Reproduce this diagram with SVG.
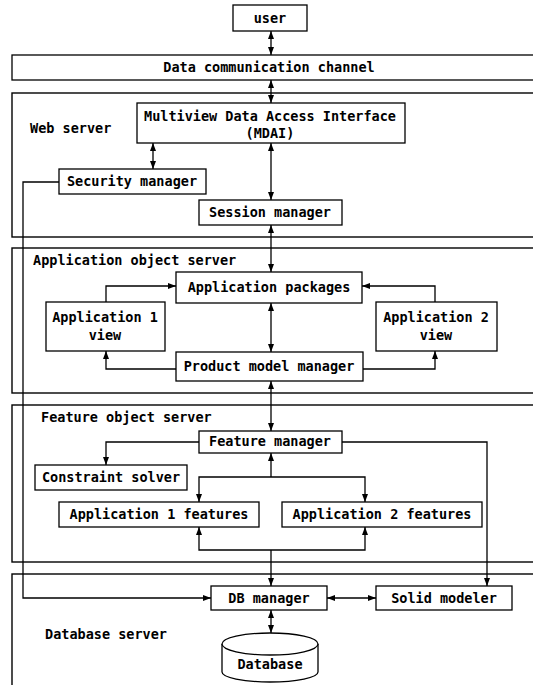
<svg xmlns="http://www.w3.org/2000/svg" width="533" height="685" viewBox="0 0 533 685">
  <style>
    .box { fill: #fff; stroke: #000; stroke-width: 1.3; }
    .tier { fill: none; stroke: #000; stroke-width: 1.4; }
    .ln { fill: none; stroke: #000; stroke-width: 1.3; }
    text { font-family: "DejaVu Sans Mono", "Liberation Mono", "Noto Sans CJK SC", monospace; font-weight: bold; font-size: 13.5px; fill: #000; }
    .c { text-anchor: middle; }
  </style>
  <defs>
    <marker id="ah" viewBox="0 0 8 6" refX="8" refY="3" markerWidth="8" markerHeight="6" markerUnits="userSpaceOnUse" orient="auto-start-reverse">
      <path d="M0,0 L8,3 L0,6 z" fill="#000"/>
    </marker>
  </defs>

  <!-- server tiers -->
  <g id="tiers">
    <rect class="tier" x="12" y="93" width="540" height="144"/>
    <rect class="tier" x="12" y="248" width="540" height="145"/>
    <rect class="tier" x="12" y="405" width="540" height="157"/>
    <rect class="tier" x="12" y="574" width="540" height="130"/>
    <text x="30" y="133">Web server</text>
    <text x="33" y="265">Application object server</text>
    <text x="41" y="422">Feature object server</text>
    <text x="45" y="639">Database server</text>
  </g>

  <!-- connectors -->
  <g id="connectors" class="ln">
    <path class="ln" d="M271,31 V55" marker-start="url(#ah)" marker-end="url(#ah)"/>
    <path class="ln" d="M271,80 V103" marker-start="url(#ah)" marker-end="url(#ah)"/>
    <path class="ln" d="M153,143 V169" marker-start="url(#ah)" marker-end="url(#ah)"/>
    <path class="ln" d="M271,143 V200" marker-start="url(#ah)" marker-end="url(#ah)"/>
    <path class="ln" d="M271,225 V272" marker-start="url(#ah)" marker-end="url(#ah)"/>
    <path class="ln" d="M59,182 H23 V598 H211" marker-end="url(#ah)"/>
    <path class="ln" d="M106,302 V286 H176" marker-end="url(#ah)"/>
    <path class="ln" d="M435,302 V286 H362" marker-end="url(#ah)"/>
    <path class="ln" d="M271,303 V352" marker-start="url(#ah)" marker-end="url(#ah)"/>
    <path class="ln" d="M176,369 H106 V351" marker-end="url(#ah)"/>
    <path class="ln" d="M363,369 H435 V351" marker-end="url(#ah)"/>
    <path class="ln" d="M271,381 V431" marker-start="url(#ah)" marker-end="url(#ah)"/>
    <path class="ln" d="M199,442 H106 V465" marker-end="url(#ah)"/>
    <path class="ln" d="M342,442 H487 V586" marker-end="url(#ah)"/>
    <path class="ln" d="M271,477 V453" marker-end="url(#ah)"/>
    <path class="ln" d="M271,477 H199 V502" marker-end="url(#ah)"/>
    <path class="ln" d="M271,477 H365 V502" marker-end="url(#ah)"/>
    <path class="ln" d="M271,550 H199 V527" marker-end="url(#ah)"/>
    <path class="ln" d="M271,550 H365 V527" marker-end="url(#ah)"/>
    <path class="ln" d="M271,550 V586" marker-end="url(#ah)"/>
    <path class="ln" d="M327,598 H376" marker-start="url(#ah)" marker-end="url(#ah)"/>
    <path class="ln" d="M271,610 V633" marker-start="url(#ah)" marker-end="url(#ah)"/>
  </g>

  <g id="user">
    <rect class="box" x="233" y="5" width="74" height="26"/>
    <text class="c" x="270" y="23">user</text>
  </g>
  <g id="channel">
    <rect class="box" x="12" y="55" width="540" height="25"/>
    <text class="c" x="269" y="72">Data communication channel</text>
  </g>
  <g id="mdai">
    <rect class="box" x="137" y="103" width="268" height="40"/>
    <text class="c" x="270" y="121">Multiview Data Access Interface</text>
    <text class="c" x="270" y="138">(MDAI)</text>
  </g>
  <g id="security-manager">
    <rect class="box" x="59" y="169" width="147" height="25"/>
    <text class="c" x="132" y="186">Security manager</text>
  </g>
  <g id="session-manager">
    <rect class="box" x="199" y="200" width="143" height="25"/>
    <text class="c" x="270" y="217">Session manager</text>
  </g>
  <g id="application-packages">
    <rect class="box" x="176" y="272" width="186" height="31"/>
    <text class="c" x="269" y="292">Application packages</text>
  </g>
  <g id="application-1-view">
    <rect class="box" x="46" y="302" width="119" height="49"/>
    <text class="c" x="105" y="322">Application 1</text>
    <text class="c" x="105" y="340">view</text>
  </g>
  <g id="application-2-view">
    <rect class="box" x="376" y="302" width="121" height="49"/>
    <text class="c" x="436" y="322">Application 2</text>
    <text class="c" x="436" y="340">view</text>
  </g>
  <g id="product-model-manager">
    <rect class="box" x="176" y="352" width="187" height="29"/>
    <text class="c" x="269" y="371">Product model manager</text>
  </g>
  <g id="feature-manager">
    <rect class="box" x="199" y="431" width="143" height="22"/>
    <text class="c" x="270" y="446">Feature manager</text>
  </g>
  <g id="constraint-solver">
    <rect class="box" x="35" y="465" width="152" height="25"/>
    <text class="c" x="111" y="482">Constraint solver</text>
  </g>
  <g id="application-1-features">
    <rect class="box" x="59" y="502" width="200" height="25"/>
    <text class="c" x="159" y="519">Application 1 features</text>
  </g>
  <g id="application-2-features">
    <rect class="box" x="282" y="502" width="200" height="25"/>
    <text class="c" x="382" y="519">Application 2 features</text>
  </g>
  <g id="db-manager">
    <rect class="box" x="211" y="586" width="116" height="24"/>
    <text class="c" x="269" y="603">DB manager</text>
  </g>
  <g id="solid-modeler">
    <rect class="box" x="376" y="586" width="136" height="24"/>
    <text class="c" x="444" y="603">Solid modeler</text>
  </g>
  <g id="database">
    <path class="box" d="M222,644 V672 A48,10 0 0 0 318,672 V644"/>
    <ellipse class="box" cx="270" cy="644" rx="48" ry="11"/>
    <text class="c" x="270" y="669">Database</text>
  </g>
</svg>
